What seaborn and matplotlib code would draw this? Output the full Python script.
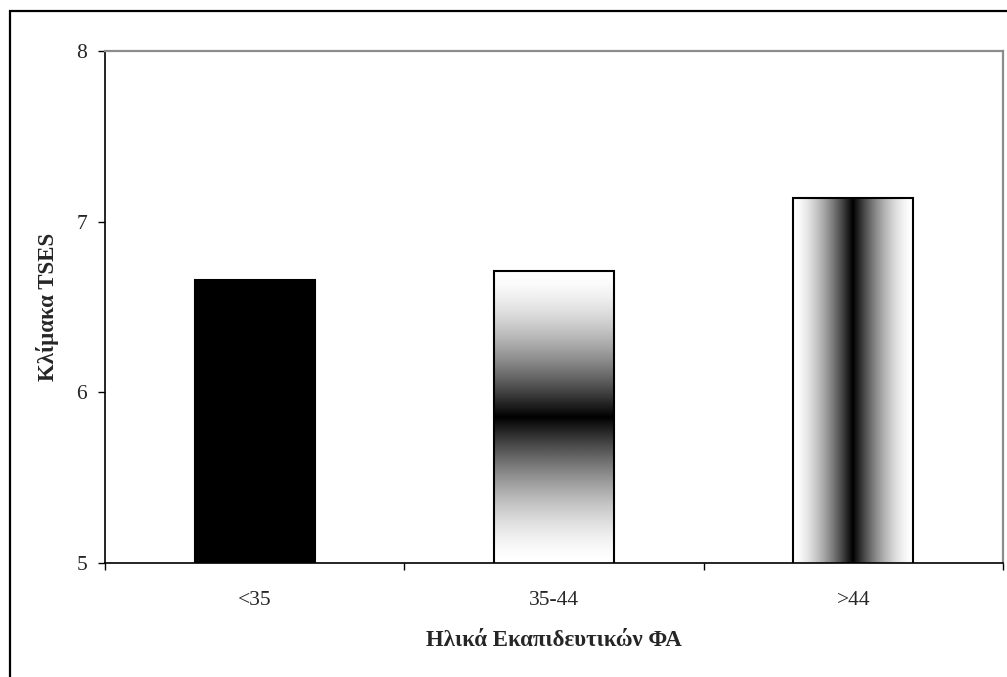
import numpy as np
import matplotlib
matplotlib.use("Agg")
import matplotlib.pyplot as plt
import seaborn as sns
from matplotlib.patches import Rectangle

categories = ["<35", "35-44", ">44"]
values = [6.66, 6.71, 7.14]
y_ticks = [5, 6, 7, 8]
x_label = "Ηλικά Εκαπιδευτικών ΦΑ"
y_label = "Κλίμακα TSES"

sns.set_style("white")
plt.rcParams['font.family'] = ['Liberation Serif', 'DejaVu Serif']

W, H = 1007, 677
fig = plt.figure(figsize=(W / 100, H / 100), dpi=100)
ax = fig.add_axes([105 / W, 1 - 563 / H, (1003 - 105) / W, (563 - 51) / H])

sns.barplot(x=categories, y=values, width=0.4, color="black",
            edgecolor="black", linewidth=1.5, saturation=1, ax=ax)

# gradient profile (white at edges, black at centre)
t = np.linspace(-1, 1, 400)
prof = 1 - (1 - np.abs(t)) ** 1.6

patches = list(ax.patches)
for i, p in enumerate(patches):
    p.set_zorder(3)
    if i == 0:
        continue
    x0 = p.get_x()
    x1 = x0 + p.get_width()
    top = p.get_y() + p.get_height()
    if i == 1:
        img = prof.reshape(-1, 1)
    else:
        img = prof.reshape(1, -1)
    ax.imshow(img, cmap="gray", vmin=0, vmax=1, aspect="auto",
              extent=(x0, x1, 5, top), origin="lower", zorder=2,
              interpolation="bilinear")
    p.set_facecolor("none")

ax.set_xlim(-0.5, 2.5)
ax.set_ylim(5, 8)
ax.set_yticks(y_ticks)
ax.set_yticklabels([str(v) for v in y_ticks])

for s in ["left", "bottom"]:
    ax.spines[s].set_color("black")
    ax.spines[s].set_linewidth(1.2)
for s in ["top", "right"]:
    ax.spines[s].set_color("#8c8c8c")
    ax.spines[s].set_linewidth(1.6)
    ax.spines[s].set_visible(True)

ax.tick_params(axis="y", which="major", direction="out", length=5, width=1,
               color="black", labelsize=15.5, pad=8, left=True)
ax.set_xticks([-0.5, 0.5, 1.5, 2.5], minor=True)
ax.tick_params(axis="x", which="minor", direction="out", length=5, width=1,
               color="black", bottom=True)
ax.tick_params(axis="x", which="major", length=0, labelsize=15.5, pad=20)

ax.set_xlabel(x_label, fontsize=16.5, fontweight="bold")
ax.set_ylabel(y_label, fontsize=16.5, fontweight="bold")
ax.xaxis.set_label_coords(0.5, (563 - 630) / 512)
ax.yaxis.set_label_coords((59 - 105) / 898, 0.5)

# outer chart border
fig.add_artist(Rectangle((9.5 / W, -0.5), 2, 1.5 - 11 / H,
                         transform=fig.transFigure, fill=False,
                         edgecolor="black", linewidth=1.6))

fig.savefig("out.png", dpi=100, facecolor="white")
